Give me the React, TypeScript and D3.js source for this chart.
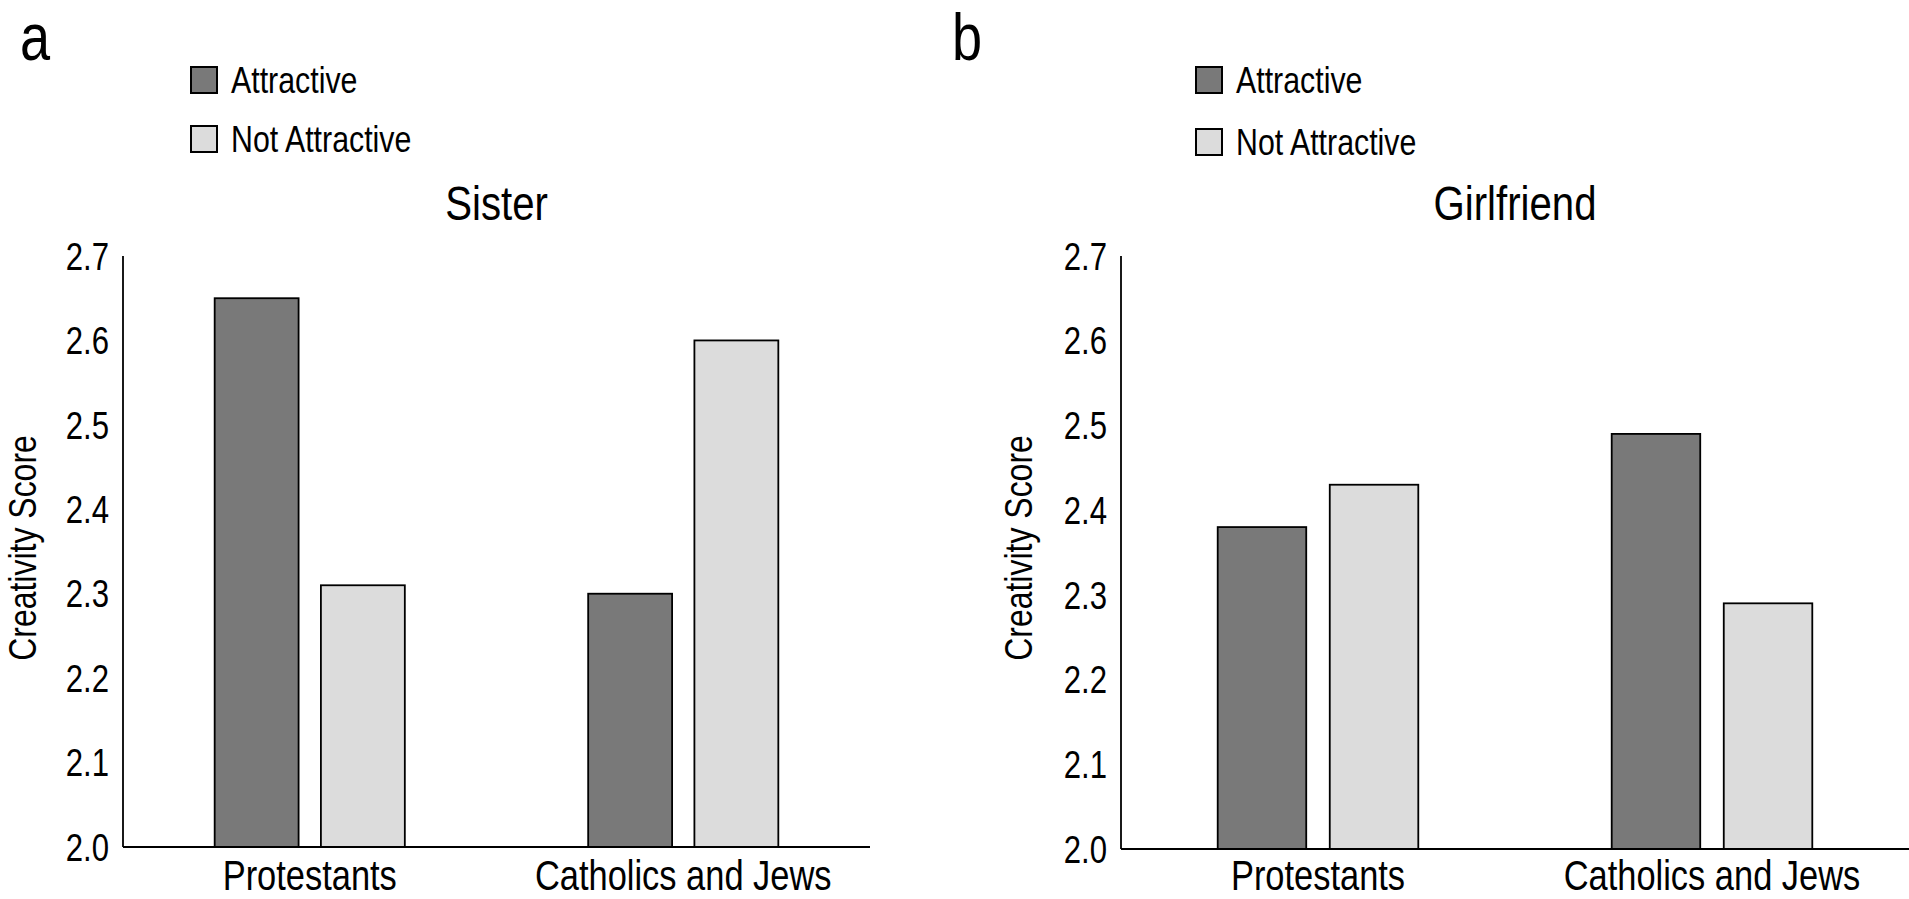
import * as d3 from "d3";
import type { ReactNode } from "react";

const categories = ["Protestants", "Catholics and Jews"];
const conditions = ["Attractive", "Not Attractive"];

// panel a: Sister
const sisterAttractive = [2.65, 2.3];
const sisterNotAttractive = [2.31, 2.6];
// panel b: Girlfriend
const girlfriendAttractive = [2.38, 2.49];
const girlfriendNotAttractive = [2.43, 2.29];

const yTicks = [2.0, 2.1, 2.2, 2.3, 2.4, 2.5, 2.6, 2.7];
const yLabel = "Creativity Score";

// no condensed face installed, so squeeze Liberation Sans horizontally
const FONT = "'Liberation Sans', Arial, sans-serif";
const SQUEEZE = 0.82;

const fills: Record<string, string> = {
  Attractive: "#797979",
  "Not Attractive": "#dcdcdc",
};

const T = (props: {
  x: number;
  y: number;
  size: number;
  anchor?: string;
  rotate?: boolean;
  dy?: string;
  children: ReactNode;
}) => (
  <text
    transform={`translate(${props.x},${props.y})${props.rotate ? " rotate(-90)" : ""} scale(${SQUEEZE},1)`}
    fontSize={props.size}
    textAnchor={props.anchor ?? "start"}
    dy={props.dy}
    fontFamily={FONT}
    fill="#000"
  >
    {props.children}
  </text>
);

interface PanelProps {
  letter: string;
  title: string;
  attractive: number[];
  notAttractive: number[];
  x0: number;
  x1: number;
  yBottom: number;
  letterX: number;
  legendX: number;
  legendY: [number, number];
  yLabelX: number;
}

const Panel = (p: PanelProps) => {
  const yTop = 256;
  const y = d3.scaleLinear().domain([2.0, 2.7]).range([p.yBottom, yTop]);
  const xCat = d3.scaleBand<string>().domain(categories).range([p.x0, p.x1]);
  const xCond = d3
    .scaleBand<string>()
    .domain(conditions)
    .range([0, xCat.bandwidth()])
    .paddingInner(0.21)
    .paddingOuter(0.863);

  const rows = categories.map((c, i) => ({
    category: c,
    values: [
      { cond: conditions[0], v: p.attractive[i] },
      { cond: conditions[1], v: p.notAttractive[i] },
    ],
  }));

  return (
    <g>
      <T x={p.letterX} y={60} size={66}>
        {p.letter}
      </T>

      {/* legend */}
      {conditions.map((c, i) => (
        <g key={c}>
          <rect
            x={p.legendX}
            y={p.legendY[i] - 26}
            width={26}
            height={26}
            fill={fills[c]}
            stroke="#000"
            strokeWidth={2}
          />
          <T x={p.legendX + 40} y={p.legendY[i]} size={37}>
            {c}
          </T>
        </g>
      ))}

      <T x={(p.x0 + p.x1) / 2} y={220} size={49} anchor="middle">
        {p.title}
      </T>

      {/* bars */}
      {rows.map((r) => (
        <g key={r.category} transform={`translate(${xCat(r.category)},0)`}>
          {r.values.map((d) => (
            <rect
              key={d.cond}
              x={xCond(d.cond)}
              y={y(d.v)}
              width={xCond.bandwidth()}
              height={p.yBottom - y(d.v)}
              fill={fills[d.cond]}
              stroke="#000"
              strokeWidth={1.8}
            />
          ))}
        </g>
      ))}

      {/* y axis */}
      <line x1={p.x0} x2={p.x0} y1={yTop} y2={p.yBottom} stroke="#000" strokeWidth={1.8} />
      {yTicks.map((t) => (
        <T key={t} x={p.x0 - 14} y={y(t)} dy="0.36em" size={38} anchor="end">
          {d3.format(".1f")(t)}
        </T>
      ))}
      <T x={p.yLabelX} y={548} size={39} anchor="middle" rotate>
        {yLabel}
      </T>

      {/* x axis */}
      <line x1={p.x0} x2={p.x1} y1={p.yBottom} y2={p.yBottom} stroke="#000" strokeWidth={2.2} />
      {categories.map((c) => (
        <T key={c} x={(xCat(c) ?? 0) + xCat.bandwidth() / 2} y={890} size={42} anchor="middle">
          {c}
        </T>
      ))}
    </g>
  );
};

export default function App() {
  return (
    <div>
      <style>{`body{margin:0}`}</style>
      <svg width={1909} height={899} style={{ display: "block", background: "#fff" }}>
        <Panel
          letter="a"
          title="Sister"
          attractive={sisterAttractive}
          notAttractive={sisterNotAttractive}
          x0={123}
          x1={870}
          yBottom={847}
          letterX={20}
          legendX={191}
          legendY={[93, 152]}
          yLabelX={36}
        />
        <Panel
          letter="b"
          title="Girlfriend"
          attractive={girlfriendAttractive}
          notAttractive={girlfriendNotAttractive}
          x0={1121}
          x1={1909}
          yBottom={849}
          letterX={952}
          legendX={1196}
          legendY={[93, 155]}
          yLabelX={1032}
        />
      </svg>
    </div>
  );
}
